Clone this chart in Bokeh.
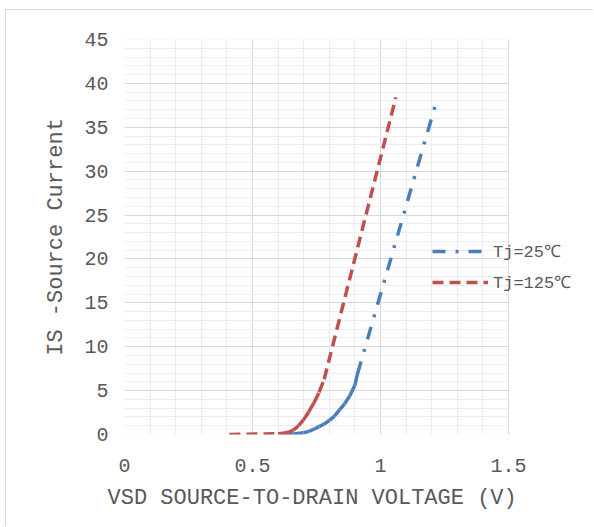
from bokeh.plotting import figure
from bokeh.models import Range1d, SingleIntervalTicker, Legend, LegendItem, BoxAnnotation, Title
from bokeh.embed import file_html
from bokeh.resources import INLINE

# Tj = 25 C  (VSD in V, IS in A)
vsd_25 = [0.62, 0.66, 0.70, 0.72, 0.74, 0.76, 0.78, 0.80, 0.82, 0.84, 0.86, 0.88, 0.90, 0.91, 1.215]
is_25 = [0.0, 0.05, 0.2, 0.35, 0.6, 0.9, 1.2, 1.6, 2.1, 2.8, 3.5, 4.4, 5.6, 6.9, 37.6]

# Tj = 125 C
vsd_125 = [0.41, 0.60, 0.62, 0.64, 0.66, 0.68, 0.70, 0.72, 0.74, 0.76, 0.78, 1.06]
is_125 = [0.0, 0.1, 0.15, 0.25, 0.5, 1.0, 1.7, 2.6, 3.6, 4.8, 6.3, 38.4]

series_labels = ["Tj=25℃", "Tj=125℃"]
x_ticks = [0, 0.5, 1, 1.5]
x_tick_labels = ["0", "0.5", "1", "1.5"]
y_ticks = [0, 5, 10, 15, 20, 25, 30, 35, 40, 45]
y_tick_labels = ["0", "5", "10", "15", "20", "25", "30", "35", "40", "45"]
x_min, x_max = 0, 1.5
y_min, y_max = 0, 45
x_title = "VSD SOURCE-TO-DRAIN VOLTAGE (V)"
y_title = "IS -Source Current"

TEXT = "#595959"
MONO = "Liberation Mono"

# the frame reaches the right edge so that the legend (which overhangs the
# plot area in the reference) is not clipped; grid/axis are bounded to 0..1.5
p = figure(width=588, height=517, output_backend="svg", toolbar_location=None,
           x_range=Range1d(x_min, 1.836), y_range=Range1d(y_min, y_max),
           min_border_left=118, min_border_right=0, min_border_top=29, min_border_bottom=93,
           styles={"border-left": "1px solid #d9d9d9", "border-top": "1px solid #d9d9d9",
                   "margin-left": "5px", "margin-top": "9px"})
p.background_fill_color = "white"
p.border_fill_color = "white"
p.outline_line_color = None

p.xaxis.ticker = SingleIntervalTicker(interval=0.5, num_minor_ticks=5)
p.yaxis.ticker = SingleIntervalTicker(interval=5, num_minor_ticks=5)
p.xaxis.bounds = (x_min, x_max)
p.xaxis.major_label_overrides = {t: l for t, l in zip(x_ticks, x_tick_labels)}
p.yaxis.major_label_overrides = {t: l for t, l in zip(y_ticks, y_tick_labels)}

for ax in (p.xaxis, p.yaxis):
    ax.axis_line_color = None
    ax.major_tick_line_color = None
    ax.minor_tick_line_color = None
    ax.major_tick_out = 0
    ax.major_tick_in = 0
    ax.minor_tick_out = 0
    ax.major_label_text_font = MONO
    ax.major_label_text_font_size = "20px"
    ax.major_label_text_color = TEXT
    ax.axis_label_text_font = MONO
    ax.axis_label_text_font_size = "22px"
    ax.axis_label_text_font_style = "normal"
    ax.axis_label_text_color = TEXT

p.yaxis.axis_label = y_title
p.xaxis.major_label_standoff = 24
p.yaxis.major_label_standoff = 16
p.yaxis.axis_label_standoff = 12

# x-axis title, left-aligned under the bounded plot area
p.add_layout(Title(text=x_title, align="left", offset=-17, standoff=19,
                   text_font=MONO, text_font_size="22px", text_font_style="normal",
                   text_color=TEXT), "below")

p.xgrid.bounds = (x_min, x_max)
p.xgrid.cross_bounds = (y_min, y_max)
p.ygrid.bounds = (y_min, y_max)
p.ygrid.cross_bounds = (x_min, x_max)
p.xgrid.grid_line_color = "#d9d9d9"
p.ygrid.grid_line_color = "#d9d9d9"
p.xgrid.minor_grid_line_color = "#ededed"
p.ygrid.minor_grid_line_color = "#ededed"

# plot-area border
p.add_layout(BoxAnnotation(left=x_min, right=x_max, bottom=y_min, top=y_max,
                           fill_alpha=0, line_color="#d9d9d9", line_width=1,
                           level="underlay"))

BLUE = "#4a7ebb"
RED = "#c0504d"

r25 = p.segment(x0=vsd_25[:-1], y0=is_25[:-1], x1=vsd_25[1:], y1=is_25[1:],
                line_color=BLUE, line_width=3.5, line_dash="13 10 3 10")
r125 = p.segment(x0=vsd_125[:-1], y0=is_125[:-1], x1=vsd_125[1:], y1=is_125[1:],
                 line_color=RED, line_width=3.5, line_dash="11 6")

legend = Legend(items=[LegendItem(label=series_labels[0], renderers=[r25]),
                       LegendItem(label=series_labels[1], renderers=[r125])],
                location=(308, 141), padding=0, margin=0, spacing=8,
                glyph_width=56, glyph_height=20, label_height=20,
                label_standoff=5,
                border_line_alpha=0, background_fill_alpha=0,
                label_text_font=MONO, label_text_font_size="17px", label_text_color=TEXT)
p.add_layout(legend)

open("out.html", "w").write(file_html(p, INLINE))
